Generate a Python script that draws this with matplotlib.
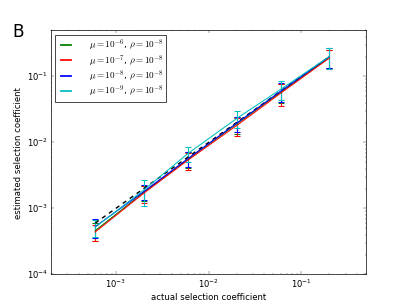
import matplotlib
matplotlib.use("Agg")
import matplotlib.pyplot as plt
from matplotlib.lines import Line2D
import numpy as np

plt.style.use('classic')

# data
x_actual = [6e-4, 2e-3, 6e-3, 2e-2, 6e-2, 2e-1]
series_labels = [r'$\mu=10^{-6}$, $\rho=10^{-8}$',
                 r'$\mu=10^{-7}$, $\rho=10^{-8}$',
                 r'$\mu=10^{-8}$, $\rho=10^{-8}$',
                 r'$\mu=10^{-9}$, $\rho=10^{-8}$']
green_est = [4.6e-4, 1.75e-3, 5.6e-3, 1.9e-2, 5.8e-2, 0.195]
green_err = [1.4e-4, 4.5e-4, 1.5e-3, 5.5e-3, 1.9e-2, 6.0e-2]
red_est = [4.4e-4, 1.7e-3, 5.4e-3, 1.8e-2, 5.6e-2, 0.19]
red_err = [1.2e-4, 5.0e-4, 1.6e-3, 5.5e-3, 2.0e-2, 6.0e-2]
blue_est = [5.3e-4, 1.8e-3, 5.7e-3, 1.95e-2, 6.0e-2, 0.2]
blue_err = [1.7e-4, 4.5e-4, 1.5e-3, 5.0e-3, 1.9e-2, 6.5e-2]
cyan_est = [5.2e-4, 1.9e-3, 6.8e-3, 2.3e-2, 6.4e-2, 0.2]
cyan_err = [1.5e-4, 8.0e-4, 1.7e-3, 6.5e-3, 2.0e-2, 7.0e-2]

series_est = [green_est, red_est, blue_est, cyan_est]
series_err = [green_err, red_err, blue_err, cyan_err]
colors = ['g', 'r', 'b', 'c']

fig = plt.figure(figsize=(8, 6), dpi=50.875)
fig.patch.set_facecolor('white')
ax = fig.add_subplot(111)
ax.set_position([0.125, 0.1, 0.775, 0.8])

handles = []
for est, err, c, lab in zip(series_est, series_err, colors, series_labels):
    ax.errorbar(x_actual, est, yerr=err, color=c, linewidth=1.5,
                capsize=4, elinewidth=1.5, capthick=1.5)
    handles.append(Line2D([], [], color=c, linewidth=2.5))

ax.plot(x_actual, x_actual, 'k--', linewidth=2)

ax.set_xscale('log')
ax.set_yscale('log')
ax.set_xlim(2e-4, 0.5)
ax.set_ylim(1e-4, 0.5)
ax.set_xlabel('actual selection coefficient')
ax.set_ylabel('estimated selection coefficient')
ax.legend(handles, series_labels, loc='upper left', fontsize=13,
          handlelength=1.7, handletextpad=1.6, labelspacing=0.0,
          borderpad=0.3, borderaxespad=0.5)
fig.text(0.03, 0.88, 'B', fontsize=24)

fig.savefig('out.png', dpi=50.875, facecolor='white')
